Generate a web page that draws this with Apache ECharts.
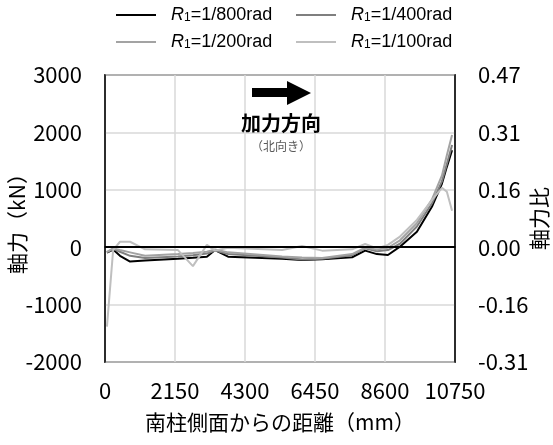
<!DOCTYPE html>
<html><head><meta charset="utf-8">
<script src="https://cdn.jsdelivr.net/npm/echarts@6/dist/echarts.min.js"></script>
<style>html,body{margin:0;padding:0;background:#fff}#c{width:553px;height:445px}</style>
</head><body><div id="c"></div>
<script>
// distance from south column face (mm)
var positions = [60, 250, 460, 770, 1230, 2240, 2700, 3130, 3380, 3780, 5440, 6050, 6670, 7590, 7990, 8350, 8690, 9060, 9580, 10040, 10350, 10500, 10660];
// axial force (kN)
var r800 = [-95, -40, -150, -250, -230, -200, -185, -165, -50, -165, -200, -225, -210, -175, -60, -120, -135, 10, 270, 705, 1110, 1400, 1690];
var r400 = [-90, -30, -80, -150, -190, -160, -140, -110, -60, -120, -180, -215, -200, -140, -20, -70, -50, 60, 360, 760, 1150, 1450, 1780];
var r200 = [-80, -20, -50, -90, -150, -120, -100, -80, -40, -90, -160, -180, -190, -120, -10, -40, -10, 120, 420, 830, 1250, 1600, 1955];
var r100 = [-1385, -50, 95, 95, -37, -50, -330, 40, -60, -8, -50, 20, -60, -37, 55, -20, 40, 185, 475, 820, 1035, 965, 635];
var seriesNames = ['1/800', '1/400', '1/200', '1/100'];
var xTicks = [0, 2150, 4300, 6450, 8600, 10750];
var yTicks = [-2000, -1000, 0, 1000, 2000, 3000];
var ratioTicks = [-0.3125, -0.15625, 0, 0.15625, 0.3125, 0.46875];

var colors = ['#000000', '#7f7f7f', '#a3a3a3', '#bfbfbf'];
var allVals = [r800, r400, r200, r100];
var font = '"Noto Sans CJK JP", "Noto Sans", sans-serif';
var lfont = '"Liberation Sans", Arial, sans-serif';

function pairs(v){ return positions.map(function(x,i){ return [x, v[i]]; }); }

var series = seriesNames.map(function(n, k){
  var s = {
    name: n, type: 'line', data: pairs(allVals[k]), symbol: 'none',
    lineStyle: {color: colors[k], width: 2}, itemStyle: {color: colors[k]},
    animation: false
  };
  if (k === 0) {
    s.markLine = {silent: true, symbol: 'none', label: {show: false},
      lineStyle: {color: '#000', width: 2, type: 'solid'}, data: [{yAxis: 0}], animation: false};
  }
  return s;
});

function mkLegend(name, left, top){
  return {
    data: [name], left: left, top: top, itemWidth: 40, itemHeight: 14, padding: 0,
    selectedMode: false,
    itemStyle: {opacity: 0},
    formatter: function(n){ return '{i|R}{s|1}{t|=' + n + 'rad}'; },
    textStyle: {fontFamily: lfont, fontSize: 18, color: '#000',
      rich: {i: {fontStyle: 'italic', fontSize: 18, fontFamily: lfont, color:'#000', padding: [0,0,0,10]},
             s: {fontSize: 12, fontFamily: lfont, color:'#000', padding: [6,0,0,0]},
             t: {fontSize: 18, fontFamily: lfont, color:'#000'}}}
  };
}

var chart = echarts.init(document.getElementById('c'), null, {renderer: 'canvas'});
chart.setOption({
  animation: false,
  backgroundColor: '#fff',
  legend: [
    mkLegend(seriesNames[0], 115, 6),
    mkLegend(seriesNames[1], 295, 6),
    mkLegend(seriesNames[2], 115, 33),
    mkLegend(seriesNames[3], 295, 33)
  ],
  grid: {left: 105, right: 98, top: 75, bottom: 83, show: true, borderColor: '#000', borderWidth: 1.5,
    containLabel: false, outerBoundsMode: 'none'},
  xAxis: {
    type: 'value', min: xTicks[0], max: xTicks[xTicks.length-1], interval: xTicks[1]-xTicks[0],
    name: '南柱側面からの距離（mm）', nameLocation: 'middle', nameGap: 50, nameMoveOverlap: false,
    nameTextStyle: {fontFamily: font, fontSize: 21, color: '#000'},
    axisLine: {show: true, lineStyle: {color: '#000', width: 1.5}},
    axisTick: {show: false},
    axisLabel: {fontFamily: font, fontSize: 22, color: '#000', margin: 18,
      formatter: function(v){ return String(v); }},
    splitLine: {show: true, lineStyle: {color: '#d9d9d9', width: 1.5}}
  },
  yAxis: [{
    type: 'value', min: yTicks[0], max: yTicks[yTicks.length-1], interval: yTicks[1]-yTicks[0],
    name: '軸力（kN）', nameLocation: 'middle', nameGap: 77, nameRotate: 90, nameMoveOverlap: false,
    nameTextStyle: {fontFamily: font, fontSize: 21, color: '#000'},
    axisLine: {show: true, lineStyle: {color: '#000', width: 1.5}},
    axisTick: {show: false},
    axisLabel: {fontFamily: font, fontSize: 22, color: '#000', margin: 23,
      formatter: function(v){ return String(v); }},
    splitLine: {show: true, lineStyle: {color: '#d9d9d9', width: 1.5}}
  }, {
    type: 'value', position: 'right', min: ratioTicks[0], max: ratioTicks[ratioTicks.length-1],
    interval: ratioTicks[1]-ratioTicks[0],
    name: '軸力比', nameLocation: 'middle', nameGap: 74, nameRotate: 90, nameMoveOverlap: false,
    nameTextStyle: {fontFamily: font, fontSize: 21, color: '#000'},
    axisLine: {show: true, lineStyle: {color: '#000', width: 1.5}},
    axisTick: {show: false},
    axisLabel: {fontFamily: font, fontSize: 22, color: '#000', margin: 23,
      formatter: function(v){ var s = v.toFixed(2); return s === '-0.00' ? '0.00' : s; }},
    splitLine: {show: false}
  }],
  graphic: [
    {type: 'polygon', shape: {points: [[252,88],[287,88],[287,81],[311,93],[287,105],[287,97],[252,97]]},
     style: {fill: '#000'}, z: 100},
    {type: 'text', x: 281, y: 123, style: {text: '加力方向', font: 'bold 20px ' + font, fill: '#000', align: 'center', verticalAlign: 'middle'}, z: 100},
    {type: 'text', x: 281, y: 146, style: {text: '（北向き）', font: '12px ' + font, fill: '#595959', align: 'center', verticalAlign: 'middle'}, z: 100}
  ],
  series: series
});
</script></body></html>
